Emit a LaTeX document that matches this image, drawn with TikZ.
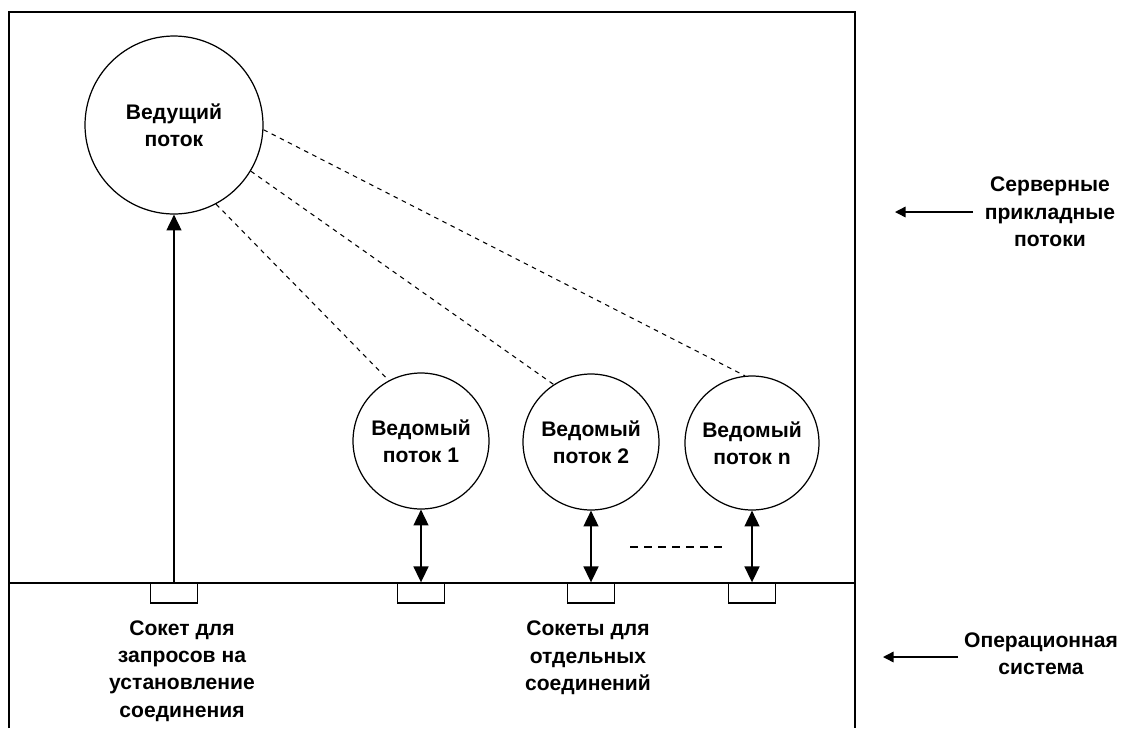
\documentclass[tikz,border=0pt]{standalone}
\usepackage{fontspec}
\setmainfont{Liberation Sans}
\usetikzlibrary{arrows.meta}
\tikzset{
  lbl/.style={font=\bfseries\fontsize{12pt}{15.6pt}\selectfont, align=center, inner sep=1pt},
  thread/.style={draw, circle, line width=0.7pt, inner sep=0pt, lbl},
  sock/.style={draw, rectangle, minimum width=0.94cm, minimum height=0.4cm, inner sep=0pt, line width=0.8pt},
  link/.style={dash pattern=on 2.6pt off 2.6pt, line width=0.6pt},
  frame/.style={line width=0.9pt},
  tipA/.style={line width=0.8pt, -{Triangle[length=9pt,width=8.5pt]}},
  tipB/.style={line width=0.8pt, {Triangle[length=9pt,width=8.5pt]}-{Triangle[length=9pt,width=8.5pt]}},
  tipS/.style={line width=0.8pt, -{Triangle[length=6pt,width=6pt]}}
}
\begin{document}
\begin{tikzpicture}[x=0.02cm, y=-0.02cm]
\path[use as bounding box] (0,0) rectangle (1137,728);
% frame
\draw[frame] (9,728) -- (9,12) -- (855,12) -- (855,728);
\draw[frame] (9,583) -- (855,583);
% threads
\node[thread, minimum size=3.56cm] (lead) at (174,125) {Ведущий\\поток};
\node[thread, minimum size=2.72cm] (s1) at (421,441) {Ведомый\\поток 1};
\node[thread, minimum size=2.72cm] (s2) at (591,442) {Ведомый\\поток 2};
\node[thread, minimum size=2.68cm] (sn) at (752,443) {Ведомый\\поток n};
% sockets
\node[sock] (k0) at (lead |- 0,593) {};
\node[sock] (k1) at (s1 |- 0,593) {};
\node[sock] (k2) at (s2 |- 0,593) {};
\node[sock] (k3) at (sn |- 0,593) {};
% connectors
\draw[tipA] (k0.north) -- (lead.south);
\draw[tipB] (s1.south) -- (k1.north);
\draw[tipB] (s2.south) -- (k2.north);
\draw[tipB] (sn.south) -- (k3.north);
\draw[link] (lead.-62) -- (s1.118);
\draw[link] (lead.-31) -- (s2.123);
\draw[link] (lead.-3) -- (sn.96);
% ellipsis
\draw[dash pattern=on 4.5pt off 3.5pt, line width=0.6pt] (630,547) -- (722,547);
% bottom labels
\node[lbl] (l0) at (182,671) {Сокет для\\запросов на\\установление\\соединения};
\node[lbl] (l1) at (588,658) {Сокеты для\\отдельных\\соединений};
% side labels
\node[lbl] (srv) at (1050,212) {Серверные\\прикладные\\потоки};
\coordinate (srvtip) at (895,212);
\draw[tipS] (973,212) -- (srvtip);
\node[lbl] (os) at (1041,654) {Операционная\\система};
\coordinate (ostip) at (883,657);
\draw[tipS] (958,657) -- (ostip);
\end{tikzpicture}
\end{document}
